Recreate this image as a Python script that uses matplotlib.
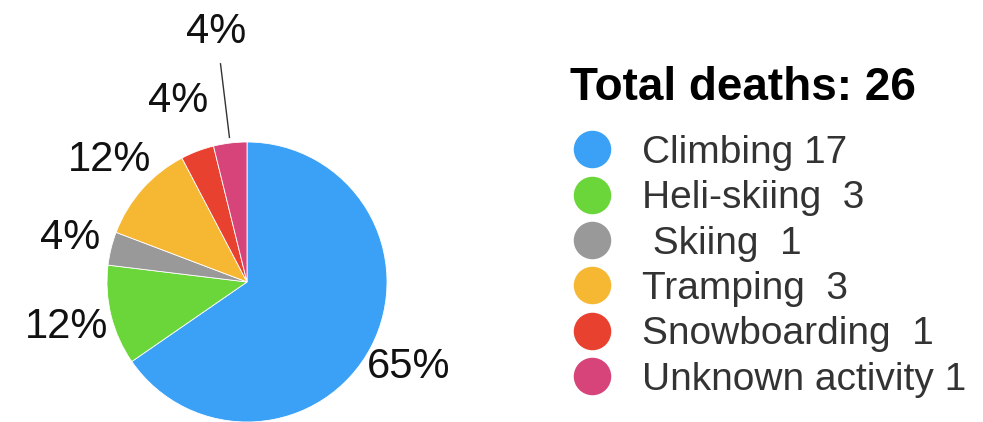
import numpy as np
import matplotlib
matplotlib.use("Agg")
import matplotlib.pyplot as plt
from matplotlib.lines import Line2D

plt.rcParams['font.family'] = ['Liberation Sans', 'DejaVu Sans']

activities = ["Climbing", "Heli-skiing", "Skiing", "Tramping", "Snowboarding", "Unknown activity"]
deaths = [17, 3, 1, 3, 1, 1]
legend_labels = ["Climbing 17", "Heli-skiing  3", " Skiing  1", "Tramping  3", "Snowboarding  1", "Unknown activity 1"]
colors = ["#3aa1f7", "#6bd63a", "#999999", "#f6b733", "#e8412f", "#d6447a"]
legend_title = "Total deaths: 26"

W, H = 983, 422
fig = plt.figure(figsize=(W / 100, H / 100), dpi=100)
R = 140
cx, cy = 247, 282
ax = fig.add_axes([(cx - R) / W, (H - cy - R) / H, 2 * R / W, 2 * R / H])

wedges, _ = ax.pie(deaths, colors=colors, startangle=90, counterclock=False,
                   wedgeprops=dict(linewidth=0.6, edgecolor='white'))
ax.set_xlim(-1, 1)
ax.set_ylim(-1, 1)
ax.set_aspect('equal')
ax.axis('off')

total = sum(deaths)
dists = [1.30, 1.33, 1.30, 1.31, 1.38, 1.80]
for w, v, d in zip(wedges, deaths, dists):
    ang = np.deg2rad((w.theta1 + w.theta2) / 2)
    pct = f"{round(100 * v / total)}%"
    ax.text(d * np.cos(ang), d * np.sin(ang), pct, ha='center', va='center',
            fontsize=30, color='#111111', clip_on=False)
    if d > 1.5:
        ax.plot([1.04 * np.cos(ang), 1.57 * np.cos(ang)],
                [1.04 * np.sin(ang), 1.57 * np.sin(ang)],
                color='#333333', lw=1.0, clip_on=False)

fig.text(570 / W, 1 - 88 / H, legend_title, ha='left', va='center',
         fontsize=33, fontweight='bold', color='#000000')

handles = [Line2D([], [], marker='o', ls='', markersize=27, color=c, markeredgewidth=0)
           for c in colors]
leg = fig.legend(handles, legend_labels, loc='upper left',
                 bbox_to_anchor=(570 / W, 1 - 135 / H), frameon=False,
                 fontsize=28, borderpad=0, borderaxespad=0,
                 handlelength=1.13, handletextpad=0.72, labelspacing=0.24)
for t in leg.get_texts():
    t.set_color('#333333')

fig.savefig("out.png", dpi=100)
